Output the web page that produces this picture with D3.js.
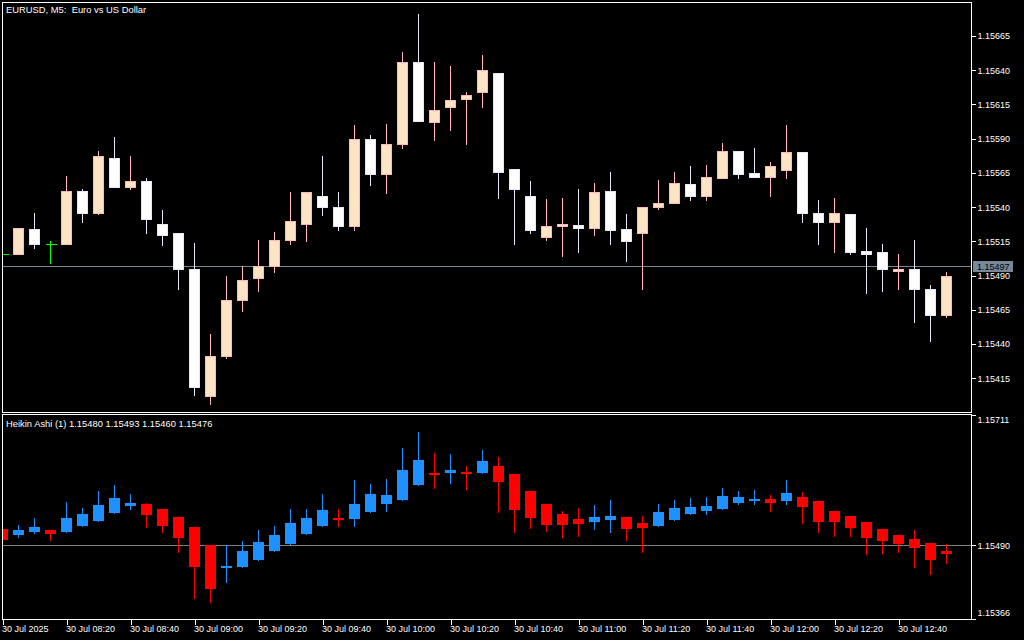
<!DOCTYPE html>
<html>
<head>
<meta charset="utf-8">
<script src="https://cdn.jsdelivr.net/npm/d3@7"></script>
<style>
  body { margin: 0; background: #000; }
  text { font-family: "Liberation Sans", Arial, sans-serif; font-size: 9px; fill: #fff; }
  text.title { font-size: 9.4px; }
</style>
</head>
<body>
<div id="chart"></div>
<script>
// bars: EURUSD M5, 30 Jul 2025 08:00 .. 12:55
var barStart = new Date(2025, 6, 30, 8, 0), barEnd = new Date(2025, 6, 30, 13, 0);
var times = d3.timeMinute.every(5).range(barStart, barEnd);

var opens = [1.15506, 1.15506, 1.15524, 1.15513, 1.15513, 1.15552, 1.15536, 1.15576, 1.15555, 1.15559,
             1.15528, 1.15521, 1.15495, 1.15402, 1.15431, 1.15472, 1.15488, 1.15497, 1.15516, 1.15528,
             1.15548, 1.15540, 1.15526, 1.15590, 1.15564, 1.15586, 1.15646, 1.15602, 1.15613, 1.15619,
             1.15624, 1.15638, 1.15568, 1.15548, 1.15518, 1.15526, 1.15527, 1.15525, 1.15552, 1.15524,
             1.15521, 1.15540, 1.15543, 1.15557, 1.15548, 1.15561, 1.15581, 1.15565, 1.15562, 1.15567,
             1.15580, 1.15536, 1.15529, 1.15535, 1.15508, 1.15507, 1.15494, 1.15495, 1.15480, 1.15461];
var highs = [1.15510, 1.15525, 1.15536, 1.15515, 1.15563, 1.15553, 1.15581, 1.15591, 1.15577, 1.15561,
             1.15538, 1.15521, 1.15514, 1.15447, 1.15490, 1.15497, 1.15516, 1.15522, 1.15551, 1.15551,
             1.15577, 1.15551, 1.15600, 1.15593, 1.15601, 1.15653, 1.15681, 1.15646, 1.15643, 1.15624,
             1.15651, 1.15638, 1.15568, 1.15559, 1.15546, 1.15547, 1.15553, 1.15558, 1.15566, 1.15535,
             1.15540, 1.15560, 1.15566, 1.15570, 1.15571, 1.15587, 1.15581, 1.15583, 1.15573, 1.15600,
             1.15580, 1.15545, 1.15547, 1.15535, 1.15525, 1.15513, 1.15506, 1.15516, 1.15483, 1.15493];
var lows = [1.15500, 1.15506, 1.15510, 1.15499, 1.15513, 1.15529, 1.15535, 1.15555, 1.15553, 1.15521,
            1.15512, 1.15480, 1.15403, 1.15396, 1.15430, 1.15464, 1.15479, 1.15493, 1.15513, 1.15515,
            1.15534, 1.15523, 1.15523, 1.15556, 1.15550, 1.15583, 1.15603, 1.15589, 1.15596, 1.15586,
            1.15613, 1.15547, 1.15513, 1.15521, 1.15516, 1.15504, 1.15507, 1.15520, 1.15513, 1.15501,
            1.15480, 1.15539, 1.15543, 1.15545, 1.15545, 1.15561, 1.15561, 1.15562, 1.15548, 1.15561,
            1.15529, 1.15513, 1.15507, 1.15506, 1.15477, 1.15479, 1.15480, 1.15456, 1.15442, 1.15460];
var closes = [1.15506, 1.15525, 1.15513, 1.15513, 1.15552, 1.15536, 1.15577, 1.15555, 1.15559, 1.15531,
              1.15520, 1.15495, 1.15409, 1.15431, 1.15472, 1.15487, 1.15497, 1.15516, 1.15530, 1.15551,
              1.15540, 1.15526, 1.15590, 1.15564, 1.15586, 1.15646, 1.15603, 1.15611, 1.15618, 1.15622,
              1.15640, 1.15566, 1.15553, 1.15523, 1.15526, 1.15528, 1.15525, 1.15551, 1.15523, 1.15515,
              1.15540, 1.15543, 1.15558, 1.15548, 1.15562, 1.15581, 1.15564, 1.15562, 1.15570, 1.15580,
              1.15536, 1.15529, 1.15536, 1.15507, 1.15506, 1.15495, 1.15495, 1.15480, 1.15461, 1.15490];

// Heikin Ashi values as drawn in the sub-window
var haOpens = [1.15518, 1.15508, 1.15512, 1.15516, 1.15513, 1.15523, 1.15531, 1.15545, 1.15557, 1.15560,
               1.15552, 1.15538, 1.15521, 1.15490, 1.15452, 1.15454, 1.15466, 1.15481, 1.15493, 1.15509,
               1.15523, 1.15537, 1.15535, 1.15546, 1.15560, 1.15567, 1.15592, 1.15612, 1.15612, 1.15614,
               1.15612, 1.15624, 1.15611, 1.15582, 1.15560, 1.15543, 1.15535, 1.15530, 1.15533, 1.15538,
               1.15528, 1.15523, 1.15533, 1.15543, 1.15548, 1.15552, 1.15562, 1.15568, 1.15568, 1.15565,
               1.15572, 1.15565, 1.15548, 1.15540, 1.15530, 1.15518, 1.15508, 1.15501, 1.15494, 1.15480];
var haHighs = [1.15518, 1.15524, 1.15536, 1.15516, 1.15563, 1.15553, 1.15582, 1.15592, 1.15577, 1.15562,
               1.15552, 1.15538, 1.15521, 1.15490, 1.15490, 1.15498, 1.15516, 1.15523, 1.15552, 1.15552,
               1.15577, 1.15552, 1.15600, 1.15594, 1.15602, 1.15654, 1.15681, 1.15646, 1.15644, 1.15624,
               1.15651, 1.15639, 1.15611, 1.15582, 1.15560, 1.15548, 1.15553, 1.15558, 1.15567, 1.15538,
               1.15540, 1.15560, 1.15567, 1.15570, 1.15572, 1.15587, 1.15582, 1.15584, 1.15575, 1.15600,
               1.15580, 1.15565, 1.15548, 1.15540, 1.15530, 1.15518, 1.15508, 1.15516, 1.15494, 1.15493];
var haLows = [1.15500, 1.15505, 1.15511, 1.15500, 1.15512, 1.15523, 1.15531, 1.15545, 1.15552, 1.15521,
              1.15512, 1.15479, 1.15402, 1.15395, 1.15428, 1.15454, 1.15466, 1.15481, 1.15493, 1.15509,
              1.15523, 1.15523, 1.15523, 1.15546, 1.15548, 1.15567, 1.15592, 1.15587, 1.15595, 1.15585,
              1.15612, 1.15546, 1.15513, 1.15520, 1.15514, 1.15504, 1.15506, 1.15518, 1.15513, 1.15499,
              1.15479, 1.15523, 1.15533, 1.15543, 1.15543, 1.15552, 1.15560, 1.15560, 1.15548, 1.15560,
              1.15528, 1.15513, 1.15506, 1.15506, 1.15476, 1.15477, 1.15479, 1.15454, 1.15442, 1.15460];
var haCloses = [1.15500, 1.15516, 1.15521, 1.15510, 1.15536, 1.15543, 1.15558, 1.15570, 1.15562, 1.15541,
                1.15523, 1.15503, 1.15454, 1.15417, 1.15455, 1.15481, 1.15496, 1.15508, 1.15528, 1.15536,
                1.15550, 1.15536, 1.15560, 1.15577, 1.15575, 1.15617, 1.15634, 1.15611, 1.15617, 1.15613,
                1.15633, 1.15597, 1.15550, 1.15536, 1.15525, 1.15525, 1.15526, 1.15538, 1.15540, 1.15518,
                1.15520, 1.15546, 1.15553, 1.15555, 1.15557, 1.15573, 1.15572, 1.15569, 1.15562, 1.15579,
                1.15555, 1.15530, 1.15530, 1.15520, 1.15503, 1.15498, 1.15493, 1.15486, 1.15466, 1.15476];

// axis labels
var priceTicks = [1.15415, 1.15440, 1.15465, 1.15490, 1.15515, 1.15540, 1.15565, 1.15590, 1.15615, 1.15640, 1.15665];
var haTicks = [1.15366, 1.15490, 1.15711];
var timeLabels = ["30 Jul 2025", "30 Jul 08:20", "30 Jul 08:40", "30 Jul 09:00", "30 Jul 09:20", "30 Jul 09:40",
                  "30 Jul 10:00", "30 Jul 10:20", "30 Jul 10:40", "30 Jul 11:00", "30 Jul 11:20", "30 Jul 11:40",
                  "30 Jul 12:00", "30 Jul 12:20", "30 Jul 12:40"];
var bidPrice = 1.15497, haLevel = 1.15490;
var mainTitle = "EURUSD, M5:  Euro vs US Dollar";
var haTitle = "Heikin Ashi (1) 1.15480 1.15493 1.15460 1.15476";

var bars = times.map(function(t, i) {
    return {t: t, o: opens[i], h: highs[i], l: lows[i], c: closes[i],
            ho: haOpens[i], hh: haHighs[i], hl: haLows[i], hc: haCloses[i]};
});

var width = 1024, height = 640,
    plotLeft = 2.5, plotRight = 971.5;

// scales
var x = d3.scaleTime().domain([times[0], times[times.length - 1]]).range([2.5, 946.5]);
var yMain = d3.scaleLinear().domain([1.15415, 1.15665]).range([378.3, 36]);
var yHa = d3.scaleLinear().domain([1.15366, 1.15711]).range([619, 414.5]);

var svg = d3.select("#chart").append("svg")
    .attr("width", width)
    .attr("height", height)
    .style("display", "block")
    .style("background", "#000");

// clip each window
svg.append("clipPath").attr("id", "clipMain").append("rect")
    .attr("x", 3).attr("y", 3).attr("width", 968).attr("height", 409);
svg.append("clipPath").attr("id", "clipHa").append("rect")
    .attr("x", 3).attr("y", 415).attr("width", 968).attr("height", 204);

// --- main window ---
var main = svg.append("g").attr("clip-path", "url(#clipMain)").attr("shape-rendering", "crispEdges");

main.append("line")
    .attr("x1", plotLeft).attr("x2", plotRight)
    .attr("y1", Math.round(yMain(bidPrice)) + 0.5).attr("y2", Math.round(yMain(bidPrice)) + 0.5)
    .attr("stroke", "#778899");

function kind(d) {
    return d.c > d.o ? "up" : (d.c < d.o ? "down" : "doji");
}
var wickColor = {up: "#ffb6c1", down: "#e6e6fa", doji: "#00ff00"};
var bodyFill = {up: "#ffe4c4", down: "#ffffff"};

main.selectAll(".wick")
    .data(bars)
    .enter()
    .append("line")
    .attr("class", "wick")
    .attr("x1", function(d) { return x(d.t); })
    .attr("x2", function(d) { return x(d.t); })
    .attr("y1", function(d) { return Math.round(yMain(d.h)); })
    .attr("y2", function(d) { return Math.round(yMain(d.l)) + 1; })
    .attr("stroke", function(d) { return wickColor[kind(d)]; });

main.selectAll(".body")
    .data(bars.filter(function(d) { return kind(d) != "doji"; }))
    .enter()
    .append("rect")
    .attr("class", "body")
    .attr("x", function(d) { return x(d.t) - 5; })
    .attr("y", function(d) { return Math.round(yMain(Math.max(d.o, d.c))) + 0.5; })
    .attr("width", 10)
    .attr("height", function(d) {
        return Math.max(2, Math.round(yMain(Math.min(d.o, d.c))) - Math.round(yMain(Math.max(d.o, d.c))));
    })
    .attr("fill", function(d) { return bodyFill[kind(d)]; })
    .attr("stroke", function(d) { return wickColor[kind(d)]; });

main.selectAll(".doji")
    .data(bars.filter(function(d) { return kind(d) == "doji"; }))
    .enter()
    .append("line")
    .attr("class", "doji")
    .attr("x1", function(d) { return x(d.t) - 5; })
    .attr("x2", function(d) { return x(d.t) + 6; })
    .attr("y1", function(d) { return Math.round(yMain(d.o)) + 0.5; })
    .attr("y2", function(d) { return Math.round(yMain(d.o)) + 0.5; })
    .attr("stroke", "#00ff00");

// --- Heikin Ashi window ---
var ha = svg.append("g").attr("clip-path", "url(#clipHa)").attr("shape-rendering", "crispEdges");

ha.append("line")
    .attr("x1", plotLeft).attr("x2", plotRight)
    .attr("y1", Math.round(yHa(haLevel)) + 0.5).attr("y2", Math.round(yHa(haLevel)) + 0.5)
    .attr("stroke", "#808080");

function haColor(d) { return d.hc > d.ho ? "#1e90ff" : "#ff0000"; }

ha.selectAll(".hawick")
    .data(bars)
    .enter()
    .append("line")
    .attr("class", "hawick")
    .attr("x1", function(d) { return x(d.t); })
    .attr("x2", function(d) { return x(d.t); })
    .attr("y1", function(d) { return Math.round(yHa(d.hh)); })
    .attr("y2", function(d) { return Math.round(yHa(d.hl)) + 1; })
    .attr("stroke", haColor);

ha.selectAll(".habody")
    .data(bars)
    .enter()
    .append("rect")
    .attr("class", "habody")
    .attr("x", function(d) { return x(d.t) - 5.5; })
    .attr("y", function(d) { return Math.round(yHa(Math.max(d.ho, d.hc))); })
    .attr("width", 11)
    .attr("height", function(d) {
        return Math.max(2, Math.round(yHa(Math.min(d.ho, d.hc))) - Math.round(yHa(Math.max(d.ho, d.hc))));
    })
    .attr("fill", haColor);

// --- frames ---
svg.append("rect")
    .attr("x", 2.5).attr("y", 2.5).attr("width", 969).attr("height", 410)
    .attr("fill", "none").attr("stroke", "#fff").attr("shape-rendering", "crispEdges");
svg.append("rect")
    .attr("x", 2.5).attr("y", 414.5).attr("width", 969).attr("height", 205)
    .attr("fill", "none").attr("stroke", "#fff").attr("shape-rendering", "crispEdges");

// --- axes ---
var mainAxis = svg.append("g")
    .attr("transform", "translate(" + plotRight + ",0)")
    .call(d3.axisRight(yMain).tickValues(priceTicks).tickSize(4).tickPadding(2).tickFormat(d3.format(".5f")));

var haAxis = svg.append("g")
    .attr("transform", "translate(" + plotRight + ",0)")
    .call(d3.axisRight(yHa).tickValues(haTicks).tickSize(4).tickPadding(2).tickFormat(d3.format(".5f")));
// edge labels sit inside the window
haAxis.selectAll(".tick text")
    .attr("transform", function(d) { return d == 1.15711 ? "translate(0,5)" : (d == 1.15366 ? "translate(0,-6)" : null); });

var timeTicks = times.filter(function(t, i) { return i % 4 == 0; });
var timeAxis = svg.append("g")
    .attr("transform", "translate(0,619.5)")
    .call(d3.axisBottom(x).tickValues(timeTicks).tickSize(5).tickPadding(1)
        .tickFormat(function(d, i) { return timeLabels[i]; }));
timeAxis.selectAll(".tick text").attr("text-anchor", "start").attr("x", -1);

svg.selectAll(".domain").remove();
svg.selectAll(".tick line").attr("stroke", "#fff").attr("shape-rendering", "crispEdges");
svg.selectAll(".tick text").attr("fill", "#fff").style("font-family", null).style("font-size", null)
    .attr("font-family", null).attr("font-size", null);

// bid price label
var bidY = Math.round(yMain(bidPrice));
svg.append("rect")
    .attr("x", 973).attr("y", bidY - 5).attr("width", 40).attr("height", 11)
    .attr("fill", "#778899");
svg.append("text")
    .attr("x", 977).attr("y", bidY + 3.5)
    .style("fill", "#000")
    .text(d3.format(".5f")(bidPrice));

// titles
svg.append("text").attr("class", "title").attr("x", 6).attr("y", 13)
    .attr("xml:space", "preserve").style("white-space", "pre").text(mainTitle);
svg.append("text").attr("class", "title").attr("x", 6).attr("y", 427).text(haTitle);
</script>
</body>
</html>
